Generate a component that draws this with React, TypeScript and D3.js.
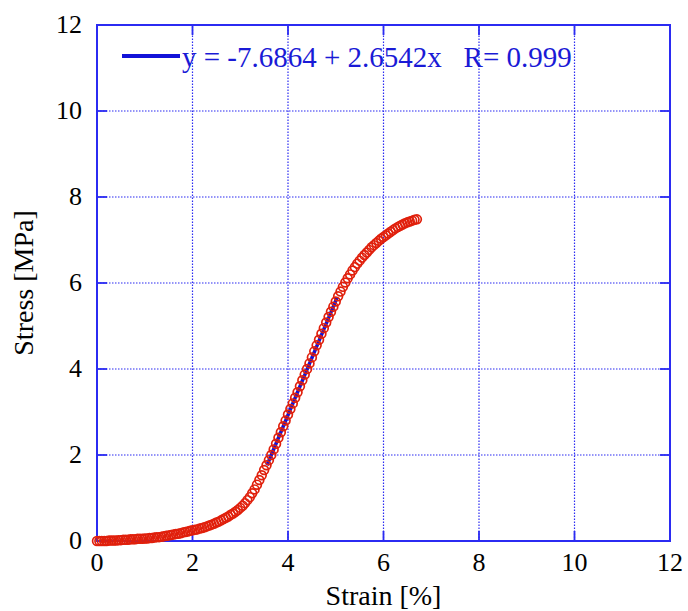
import { useEffect, useRef } from "react";
import * as d3 from "d3";

const strain = [
  0.0, 0.05, 0.1, 0.15, 0.2, 0.25, 0.3, 0.35, 0.4, 0.45, 0.5, 0.55, 0.6, 0.65, 0.7, 0.75, 0.8, 0.85, 0.9, 0.95,
  1.0, 1.05, 1.1, 1.15, 1.2, 1.25, 1.3, 1.35, 1.4, 1.45, 1.5, 1.55, 1.6, 1.65, 1.7, 1.75, 1.8, 1.85, 1.9, 1.95,
  2.0, 2.05, 2.1, 2.15, 2.2, 2.25, 2.3, 2.35, 2.4, 2.45, 2.5, 2.55, 2.6, 2.65, 2.7, 2.75, 2.8, 2.85, 2.9, 2.95,
  3.0, 3.05, 3.1, 3.15, 3.2, 3.25, 3.3, 3.35, 3.4, 3.45, 3.5, 3.55, 3.6, 3.65, 3.7, 3.75, 3.8, 3.85, 3.9, 3.95,
  4.0, 4.05, 4.1, 4.15, 4.2, 4.25, 4.3, 4.35, 4.4, 4.45, 4.5, 4.55, 4.6, 4.65, 4.7, 4.75, 4.8, 4.85, 4.9, 4.95,
  5.0, 5.05, 5.1, 5.15, 5.2, 5.25, 5.3, 5.35, 5.4, 5.45, 5.5, 5.55, 5.6, 5.65, 5.7, 5.75, 5.8, 5.85, 5.9, 5.95,
  6.0, 6.05, 6.1, 6.15, 6.2, 6.25, 6.3, 6.35, 6.4, 6.45, 6.5, 6.55, 6.6, 6.65, 6.7,
];

const stress = [
  0.0, 0.0, 0.0, 0.0, 0.0, 0.01, 0.01, 0.01, 0.01, 0.02, 0.02, 0.03, 0.03, 0.03, 0.04, 0.04, 0.04, 0.05, 0.05, 0.05,
  0.06, 0.06, 0.07, 0.07, 0.08, 0.09, 0.09, 0.1, 0.11, 0.12, 0.13, 0.14, 0.15, 0.16, 0.17, 0.18, 0.2, 0.21, 0.22, 0.24,
  0.25, 0.26, 0.27, 0.29, 0.3, 0.32, 0.34, 0.36, 0.38, 0.4, 0.43, 0.45, 0.48, 0.51, 0.54, 0.57, 0.61, 0.64, 0.68, 0.72,
  0.77, 0.82, 0.88, 0.95, 1.02, 1.11, 1.2, 1.31, 1.42, 1.53, 1.65, 1.76, 1.88, 2.0, 2.13, 2.26, 2.4, 2.53, 2.67, 2.8,
  2.94, 3.07, 3.2, 3.33, 3.46, 3.6, 3.74, 3.87, 4.0, 4.13, 4.27, 4.41, 4.55, 4.68, 4.82, 4.95, 5.08, 5.21, 5.33, 5.45,
  5.57, 5.69, 5.8, 5.91, 6.01, 6.11, 6.2, 6.29, 6.37, 6.45, 6.52, 6.59, 6.65, 6.71, 6.77, 6.83, 6.88, 6.93, 6.98, 7.03,
  7.07, 7.11, 7.15, 7.19, 7.23, 7.27, 7.3, 7.33, 7.36, 7.39, 7.41, 7.43, 7.45, 7.47, 7.48,
];

// linear fit shown in the legend, over the fitted strain range
const fitIntercept = -7.6864;
const fitSlope = 2.6542;
const fitRange = [3.56, 5.03];
const fitLabel = "y = -7.6864 + 2.6542x   R= 0.999";

const xTicks = [0, 2, 4, 6, 8, 10, 12];
const yTicks = [0, 2, 4, 6, 8, 10, 12];

export default function App() {
  const ref = useRef<SVGSVGElement>(null);

  useEffect(() => {
    if (!ref.current) return;
    const W = 688;
    const H = 611;
    const margin = { top: 25, right: 18, bottom: 70, left: 97 };
    const blue = "#2b2bf2";
    const font = "'Liberation Serif', 'Times New Roman', serif";

    const svg = d3.select(ref.current);
    svg.selectAll("*").remove();

    const x = d3.scaleLinear().domain([0, 12]).range([margin.left, W - margin.right]);
    const y = d3.scaleLinear().domain([0, 12]).range([H - margin.bottom, margin.top]);
    const [x0, x1] = x.range();
    const [y0, y1] = y.range();

    svg.append("rect").attr("width", W).attr("height", H).attr("fill", "#fff");

    // dotted grid
    const grid = svg.append("g").attr("stroke", blue).attr("stroke-width", 1.2).attr("stroke-dasharray", "1.5,1.5");
    grid.selectAll("line.gx")
      .data(xTicks.slice(1, -1))
      .enter()
      .append("line")
      .attr("x1", (d) => x(d))
      .attr("x2", (d) => x(d))
      .attr("y1", y0)
      .attr("y2", y1);
    grid.selectAll("line.gy")
      .data(yTicks.slice(1, -1))
      .enter()
      .append("line")
      .attr("y1", (d) => y(d))
      .attr("y2", (d) => y(d))
      .attr("x1", x0)
      .attr("x2", x1);

    // inner ticks on all four sides
    const tickLen = 10;
    const ticks = svg.append("g").attr("stroke", blue).attr("stroke-width", 1.8);
    xTicks.forEach((t) => {
      ticks.append("line").attr("x1", x(t)).attr("x2", x(t)).attr("y1", y0).attr("y2", y0 - tickLen);
      ticks.append("line").attr("x1", x(t)).attr("x2", x(t)).attr("y1", y1).attr("y2", y1 + tickLen);
    });
    yTicks.forEach((t) => {
      ticks.append("line").attr("y1", y(t)).attr("y2", y(t)).attr("x1", x0).attr("x2", x0 + tickLen);
      ticks.append("line").attr("y1", y(t)).attr("y2", y(t)).attr("x1", x1).attr("x2", x1 - tickLen);
    });

    svg.append("rect")
      .attr("x", x0)
      .attr("y", y1)
      .attr("width", x1 - x0)
      .attr("height", y0 - y1)
      .attr("fill", "none")
      .attr("stroke", blue)
      .attr("stroke-width", 2);

    // tick labels
    svg.append("g")
      .selectAll("text")
      .data(xTicks)
      .enter()
      .append("text")
      .attr("x", (d) => x(d))
      .attr("y", y0 + 30)
      .attr("text-anchor", "middle")
      .style("font-family", font)
      .style("font-size", "26px")
      .text((d) => d);
    svg.append("g")
      .selectAll("text")
      .data(yTicks)
      .enter()
      .append("text")
      .attr("x", x0 - 15)
      .attr("y", (d) => y(d) + 8)
      .attr("text-anchor", "end")
      .style("font-family", font)
      .style("font-size", "26px")
      .text((d) => d);

    // axis titles
    svg.append("text")
      .attr("x", (x0 + x1) / 2)
      .attr("y", 605)
      .attr("text-anchor", "middle")
      .style("font-family", font)
      .style("font-size", "28px")
      .text("Strain [%]");
    svg.append("text")
      .attr("transform", `translate(33,${(y0 + y1) / 2}) rotate(-90)`)
      .attr("text-anchor", "middle")
      .style("font-family", font)
      .style("font-size", "28px")
      .text("Stress [MPa]");

    // fit line
    const fitLine = d3.line<number>()
      .x((d) => x(d))
      .y((d) => y(fitIntercept + fitSlope * d));
    svg.append("path")
      .attr("d", fitLine(fitRange))
      .attr("stroke", "#1212d8")
      .attr("stroke-width", 3.5)
      .attr("fill", "none");

    // data points
    svg.append("g")
      .selectAll("circle")
      .data(strain)
      .enter()
      .append("circle")
      .attr("cx", (d) => x(d))
      .attr("cy", (_, i) => y(stress[i]))
      .attr("r", 4.4)
      .attr("fill", "none")
      .attr("stroke", "#e0200c")
      .attr("stroke-width", 1.7);

    // legend
    svg.append("line")
      .attr("x1", 122)
      .attr("x2", 180)
      .attr("y1", 56)
      .attr("y2", 56)
      .attr("stroke", "#1212d8")
      .attr("stroke-width", 4);
    svg.append("text")
      .attr("x", 182)
      .attr("y", 67)
      .attr("fill", "#1a1ad6")
      .style("font-family", font)
      .style("font-size", "29px")
      .style("white-space", "pre")
      .text(fitLabel);
  }, []);

  return (
    <svg
      ref={ref}
      width={688}
      height={611}
      style={{ position: "absolute", left: 0, top: 0 }}
    />
  );
}
